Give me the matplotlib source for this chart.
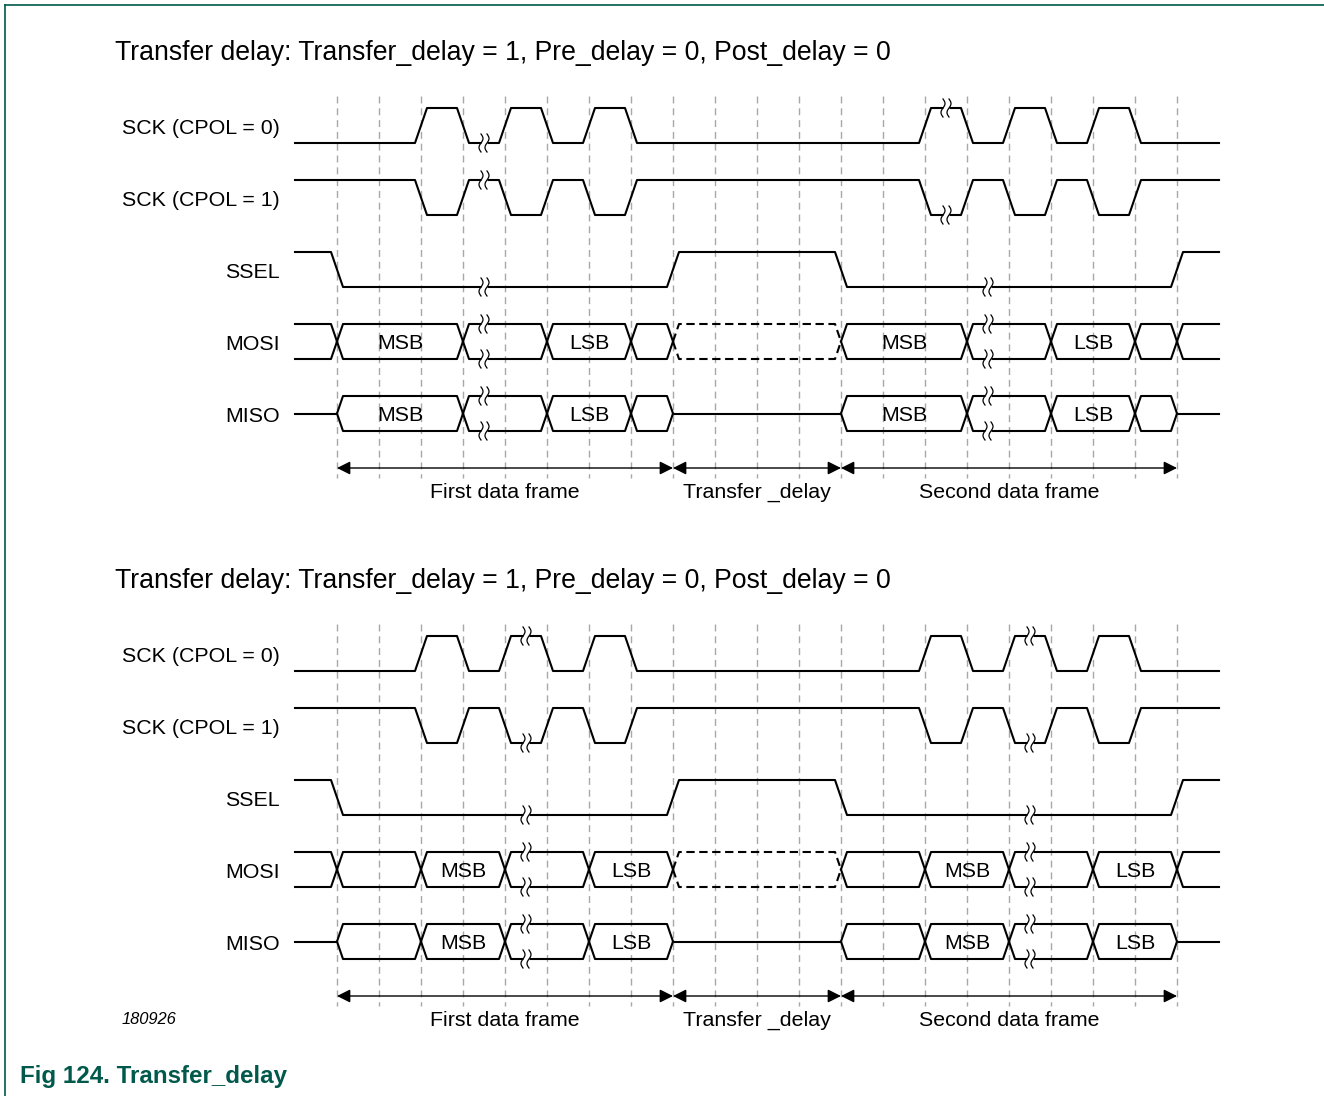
import matplotlib.pyplot as plt
import numpy as np

plt.rcParams['font.family'] = ['Liberation Sans', 'DejaVu Sans']

# timing in clock grid units (one dashed grid line per unit)
grid_t = list(range(21))
t_start, t_end = -1, 21

sck_edges = [2, 3, 4, 5, 6, 7, 14, 15, 16, 17, 18, 19]
ssel_edges = [0, 8, 12, 20]
spans = [(0, 8), (8, 12), (12, 20)]
span_labels = ['First data frame', 'Transfer _delay', 'Second data frame']
delay_span = (8, 12)

# upper diagram
top_sck_breaks = [3.5, 14.5]
top_ssel_breaks = [3.5, 15.5]
top_frame1 = [0, 3, 5, 7, 8]
top_frame2 = [12, 15, 17, 19, 20]
top_bits = ['MSB', '', 'LSB', '']
top_bus_breaks = [3.5, 15.5]

# lower diagram
bot_sck_breaks = [4.5, 16.5]
bot_ssel_breaks = [4.5, 16.5]
bot_frame1 = [0, 2, 4, 6, 8]
bot_frame2 = [12, 14, 16, 18, 20]
bot_bits = ['', 'MSB', '', 'LSB']
bot_bus_breaks = [4.5, 16.5]

signal_names = ['SCK (CPOL = 0)', 'SCK (CPOL = 1)', 'SSEL', 'MOSI', 'MISO']
title = 'Transfer delay: Transfer_delay = 1, Pre_delay = 0, Post_delay = 0'

# layout (pixels)
X0, DX = 337, 42
W, Hgt = 1324, 1096
A = 17.5          # half signal height
H = 6 / DX        # half transition width
LW = 1.5
green = '#00594a'


def px(x):
    return (x - X0) / DX


fig = plt.figure(figsize=(W / 100, Hgt / 100), dpi=100)
ax = fig.add_axes([0, 0, 1, 1])
ax.set_xlim(px(0), px(W))
ax.set_ylim(Hgt, 0)
ax.axis('off')


def draw_break(tb, y):
    g = 3 / DX
    ax.plot([tb - g, tb + g], [y, y], color='white', lw=LW + 2,
            solid_capstyle='butt', zorder=4)
    s = np.linspace(-1, 1, 40)
    for c in (tb - g, tb + g):
        ax.plot(c + (2 / DX) * np.sin(np.pi * s), y - 9 * s, color='k',
                lw=0.9, zorder=5)


def wave(yc, edges, start_high, breaks):
    hi, lo = yc - A, yc + A
    level = start_high
    xs, ys = [t_start], [hi if level else lo]
    for e in edges:
        xs += [e - H, e + H]
        ys += [hi if level else lo, lo if level else hi]
        level = not level
    xs.append(t_end)
    ys.append(hi if level else lo)
    ax.plot(xs, ys, color='k', lw=LW, zorder=3)
    for b in breaks:
        n = sum(e < b for e in edges)
        lvl = start_high if n % 2 == 0 else not start_high
        draw_break(b, hi if lvl else lo)


def cell(a, b, yc, open_a=True, open_b=True, ls='-', label=''):
    for y in (yc - A, yc + A):
        xs, ys = [], []
        if open_a:
            xs += [a, a + H]
            ys += [yc, y]
        else:
            xs.append(a)
            ys.append(y)
        if open_b:
            xs += [b - H, b]
            ys += [y, yc]
        else:
            xs.append(b)
            ys.append(y)
        ax.plot(xs, ys, color='k', lw=LW, ls=ls, zorder=3)
    if label:
        ax.text((a + b) / 2, yc + 2, label, ha='center', va='center',
                fontsize=15.4)


def frame_cells(bounds, labels, yc):
    for i in range(len(bounds) - 1):
        cell(bounds[i], bounds[i + 1], yc, label=labels[i])


def diagram(y0, sck_breaks, ssel_breaks, f1, f2, bits, bus_breaks):
    rows = [y0 + 72 * i for i in range(5)]
    ax.text(px(115), y0 - 73, title, ha='left', va='center', fontsize=19.2)
    ax.vlines(grid_t, y0 - 30, y0 + 352, colors='#a8a8a8', lw=1,
              linestyles=(0, (5, 3.5)), zorder=1)
    for name, yc in zip(signal_names, rows):
        ax.text(px(280), yc + 3, name, ha='right', va='center', fontsize=15.4)

    wave(rows[0], sck_edges, False, sck_breaks)
    wave(rows[1], sck_edges, True, sck_breaks)
    wave(rows[2], ssel_edges, True, ssel_breaks)

    # MOSI
    ym = rows[3]
    cell(t_start, f1[0], ym, open_a=False)
    frame_cells(f1, bits, ym)
    cell(delay_span[0], delay_span[1], ym, ls=(0, (4, 2.2)))
    frame_cells(f2, bits, ym)
    cell(f2[-1], t_end, ym, open_b=False)

    # MISO
    yi = rows[4]
    ax.plot([t_start, f1[0]], [yi, yi], color='k', lw=LW, zorder=3)
    frame_cells(f1, bits, yi)
    ax.plot([f1[-1], f2[0]], [yi, yi], color='k', lw=LW, zorder=3)
    frame_cells(f2, bits, yi)
    ax.plot([f2[-1], t_end], [yi, yi], color='k', lw=LW, zorder=3)

    for b in bus_breaks:
        for yc in (ym, yi):
            draw_break(b, yc - A)
            draw_break(b, yc + A)

    ya = y0 + 342.5
    for (a, b), lab in zip(spans, span_labels):
        ax.annotate('', xy=(b, ya), xytext=(a, ya),
                    arrowprops=dict(arrowstyle='<|-|>', color='k', lw=1,
                                    mutation_scale=20, shrinkA=0, shrinkB=0))
        ax.text((a + b) / 2, ya + 24, lab, ha='center', va='center',
                fontsize=15.4)


diagram(125.5, top_sck_breaks, top_ssel_breaks, top_frame1, top_frame2,
        top_bits, top_bus_breaks)
diagram(653.5, bot_sck_breaks, bot_ssel_breaks, bot_frame1, bot_frame2,
        bot_bits, bot_bus_breaks)

ax.text(px(122), 1020, '180926', ha='left', va='center', fontsize=11.9,
        style='italic')
ax.text(px(20), 1076, 'Fig 124. Transfer_delay', ha='left', va='center',
        fontsize=17.4, fontweight='bold', color=green)

# figure border (top and left)
ax.plot([px(5), px(W)], [5, 5], color=green, lw=1.2, clip_on=False)
ax.plot([px(5), px(5)], [5, Hgt], color=green, lw=1.2, clip_on=False)

fig.savefig('out.png', dpi=100)
